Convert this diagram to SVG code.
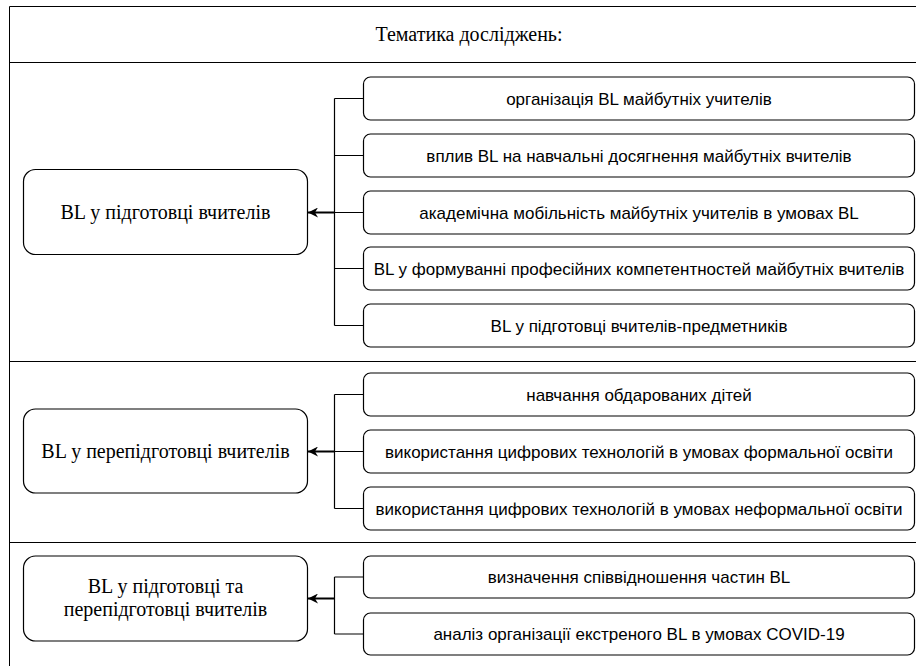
<svg xmlns="http://www.w3.org/2000/svg" width="916" height="666" viewBox="0 0 916 666">
<style>
.frame{stroke:#000;stroke-width:1;fill:none}
.node{fill:#fff;stroke:#000;stroke-width:1.2}
.ttl{font-family:"Liberation Serif","Times New Roman",serif;font-size:20px;fill:#000;text-anchor:middle}
.lbl{font-family:"Liberation Sans",Arial,sans-serif;font-size:17px;fill:#000;text-anchor:middle}
.con{stroke:#000;stroke-width:1.2;fill:none}
.arr{stroke:#000;stroke-width:2;fill:none}
</style>
<defs>
<marker id="ah" markerWidth="12" markerHeight="10" refX="10" refY="5" orient="auto" markerUnits="userSpaceOnUse">
<path d="M0,0 L10,5 L0,10 L3,5 z" fill="#000"/>
</marker>
</defs>
<rect width="916" height="666" fill="#fff"/>
<g id="frame">
<path class="frame" d="M9.5,666 V6.5 H916 M9.5,62.5 H916 M9.5,361.5 H916 M9.5,542.5 H916"/>
<text class="ttl" x="469" y="41">Тематика досліджень:</text>
</g>
<g id="connectors">
<path class="con" d="M363.5,98.5 H334.5 M363.5,155.5 H334.5 M363.5,212.5 H334.5 M363.5,268.5 H334.5 M363.5,325.5 H334.5 M334.5,98.5 V325.5"/>
<line class="arr" x1="334.5" y1="212.5" x2="308" y2="212.5" marker-end="url(#ah)"/>
<path class="con" d="M363.5,394.5 H334.5 M363.5,451.5 H334.5 M363.5,508.5 H334.5 M334.5,394.5 V508.5"/>
<line class="arr" x1="334.5" y1="451.5" x2="308" y2="451.5" marker-end="url(#ah)"/>
<path class="con" d="M363.5,577 H334.5 M363.5,634 H334.5 M334.5,577 V634"/>
<line class="arr" x1="334.5" y1="598.5" x2="308" y2="598.5" marker-end="url(#ah)"/>
</g>
<g id="n1">
<rect class="node" x="23.5" y="169.5" width="284" height="85" rx="12"/>
<text class="ttl" x="165.5" y="219">BL у підготовці вчителів</text>
</g>
<g id="n1a"><rect class="node" x="363.5" y="77" width="551" height="43" rx="7"/><text class="lbl" x="639" y="104.5">організація BL майбутніх учителів</text></g>
<g id="n1b"><rect class="node" x="363.5" y="134" width="551" height="43" rx="7"/><text class="lbl" x="639" y="161.5">вплив BL на навчальні досягнення майбутніх вчителів</text></g>
<g id="n1c"><rect class="node" x="363.5" y="191" width="551" height="43" rx="7"/><text class="lbl" x="639" y="218.5">академічна мобільність майбутніх учителів в умовах BL</text></g>
<g id="n1d"><rect class="node" x="363.5" y="247" width="551" height="43" rx="7"/><text class="lbl" x="639" y="274.5">BL у формуванні професійних компетентностей майбутніх вчителів</text></g>
<g id="n1e"><rect class="node" x="363.5" y="304" width="551" height="43" rx="7"/><text class="lbl" x="639" y="331.5">BL у підготовці вчителів-предметників</text></g>
<g id="n2">
<rect class="node" x="23.5" y="409" width="284" height="84" rx="12"/>
<text class="ttl" x="165.5" y="458">BL у перепідготовці вчителів</text>
</g>
<g id="n2a"><rect class="node" x="363.5" y="373" width="551" height="43" rx="7"/><text class="lbl" x="639" y="400.5">навчання обдарованих дітей</text></g>
<g id="n2b"><rect class="node" x="363.5" y="430" width="551" height="43" rx="7"/><text class="lbl" x="639" y="457.5">використання цифрових технологій в умовах формальної освіти</text></g>
<g id="n2c"><rect class="node" x="363.5" y="487" width="551" height="43" rx="7"/><text class="lbl" x="639" y="514.5">використання цифрових технологій в умовах неформальної освіти</text></g>
<g id="n3">
<rect class="node" x="23.5" y="556" width="284" height="85" rx="12"/>
<text class="ttl" x="165.5" y="593">BL у підготовці та</text>
<text class="ttl" x="165.5" y="616">перепідготовці вчителів</text>
</g>
<g id="n3a"><rect class="node" x="363.5" y="556" width="551" height="42" rx="7"/><text class="lbl" x="639" y="583">визначення співвідношення частин BL</text></g>
<g id="n3b"><rect class="node" x="363.5" y="613" width="551" height="42" rx="7"/><text class="lbl" x="639" y="640">аналіз організації екстреного BL в умовах COVID-19</text></g>
</svg>
